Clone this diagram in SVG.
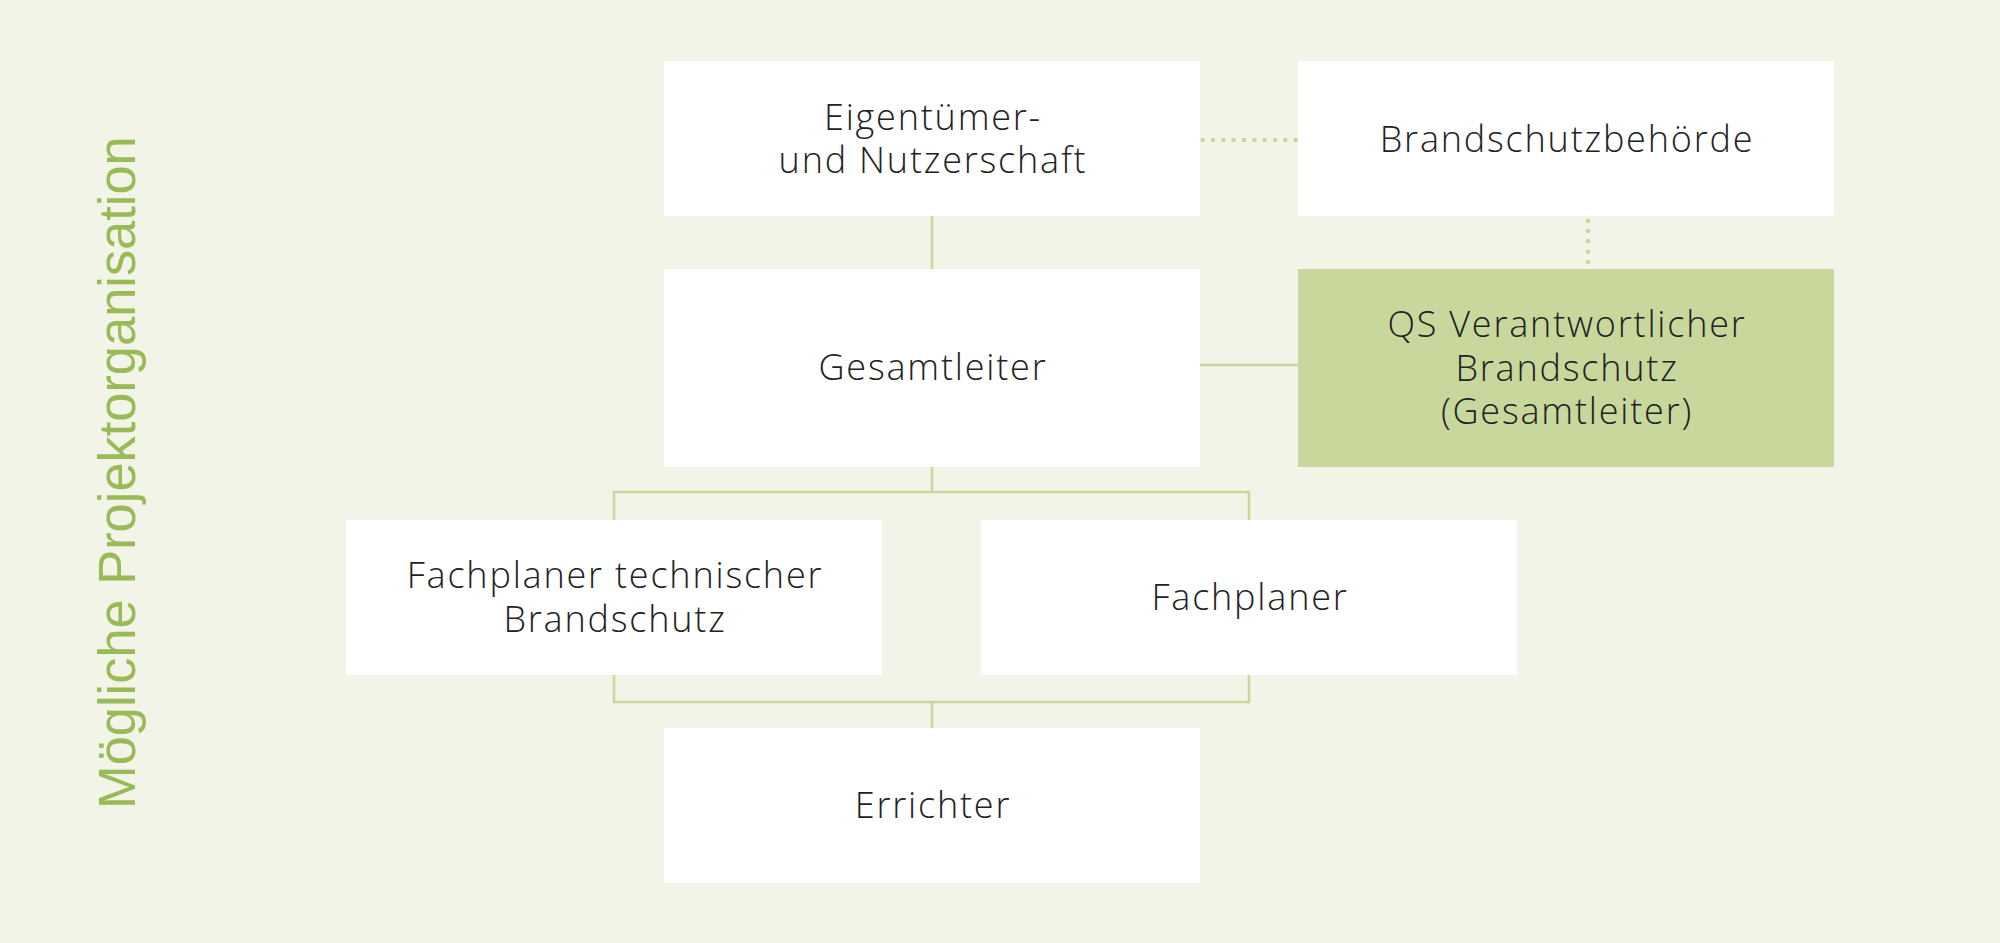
<svg xmlns="http://www.w3.org/2000/svg" width="2000" height="943" viewBox="0 0 2000 943">
<style>
.box{fill:#ffffff}
.qs{fill:#c8d79c}
.lbl{font-family:"Open Sans","Lato",sans-serif;font-weight:300;font-size:36px;letter-spacing:1.8px;fill:#222222;text-anchor:middle}
.ln{stroke:#c8d89c;stroke-width:2.5;fill:none}
.dot{stroke:#c8d89c;stroke-width:4.5;stroke-linecap:round;stroke-dasharray:0 10.33;fill:none}
.title{font-family:"Liberation Sans",Arial,sans-serif;font-size:52.4px;fill:#9aba58}
</style>
<rect width="2000" height="943" fill="#f1f4e6"/>
<text class="title" transform="translate(135,809) rotate(-90)">Mögliche Projektorganisation</text>
<g id="connectors">
<line class="ln" x1="932" y1="216" x2="932" y2="269"/>
<line class="ln" x1="1200" y1="365" x2="1298" y2="365"/>
<polyline class="ln" points="614,520 614,492 1249,492 1249,520"/>
<line class="ln" x1="932" y1="467" x2="932" y2="492"/>
<polyline class="ln" points="614,675 614,702 1249,702 1249,675"/>
<line class="ln" x1="932" y1="702" x2="932" y2="728"/>
<line class="dot" x1="1202.7" y1="140" x2="1298" y2="140"/>
<line class="dot" x1="1588" y1="220.7" x2="1588" y2="266"/>
</g>
<g id="eigentuemer">
<rect class="box" x="664" y="61" width="536" height="155"/>
<text class="lbl"><tspan x="933" y="130">Eigentümer-</tspan><tspan x="933" y="173">und Nutzerschaft</tspan></text>
</g>
<g id="brandschutzbehoerde">
<rect class="box" x="1298" y="61" width="536" height="155"/>
<text class="lbl" x="1567" y="151.5">Brandschutzbehörde</text>
</g>
<g id="gesamtleiter">
<rect class="box" x="664" y="269" width="536" height="198"/>
<text class="lbl" x="933" y="380">Gesamtleiter</text>
</g>
<g id="qs">
<rect class="qs" x="1298" y="269" width="536" height="198"/>
<text class="lbl"><tspan x="1567" y="337">QS Verantwortlicher</tspan><tspan x="1567" y="381">Brandschutz</tspan><tspan x="1567" y="424">(Gesamtleiter)</tspan></text>
</g>
<g id="fachplaner-tb">
<rect class="box" x="346" y="520" width="536" height="155"/>
<text class="lbl"><tspan x="615" y="588">Fachplaner technischer</tspan><tspan x="615" y="632">Brandschutz</tspan></text>
</g>
<g id="fachplaner">
<rect class="box" x="981" y="520" width="536" height="155"/>
<text class="lbl" x="1250" y="610">Fachplaner</text>
</g>
<g id="errichter">
<rect class="box" x="664" y="728" width="536" height="155"/>
<text class="lbl" x="933" y="818">Errichter</text>
</g>
</svg>
